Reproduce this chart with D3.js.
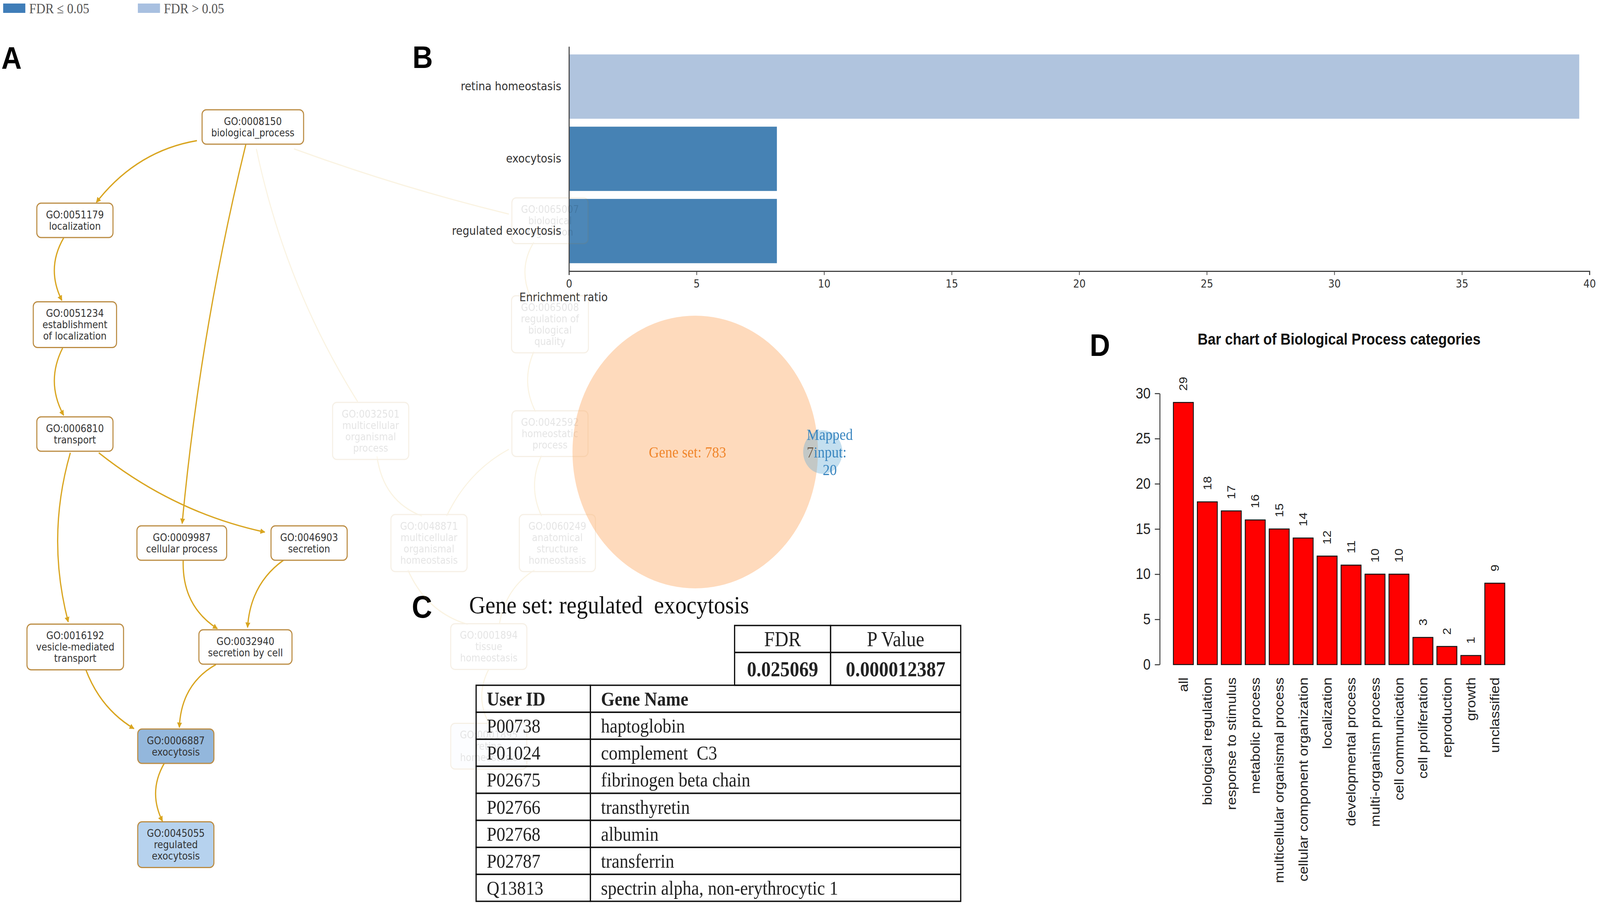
<!DOCTYPE html>
<html>
<head>
<meta charset="utf-8">
<script src="https://cdn.jsdelivr.net/npm/d3@7"></script>
<style>
  html, body { margin: 0; padding: 0; width: 100%; height: 100%; overflow: hidden; background: #fff; }
  .figure-canvas { width: 100vw; height: 100vh; }
  .figure-canvas svg { display: block; }
</style>
</head>
<body>
<div class="figure-canvas"></div>
<script>
// ---------------- data ----------------
const legendLabels = ['FDR \u2264 0.05', 'FDR > 0.05'];

// panel A: GO terms on the path to regulated exocytosis
const goTerms = [
  { id: 'GO:0008150', name: ['biological_process'] },
  { id: 'GO:0051179', name: ['localization'] },
  { id: 'GO:0051234', name: ['establishment', 'of localization'] },
  { id: 'GO:0006810', name: ['transport'] },
  { id: 'GO:0009987', name: ['cellular process'] },
  { id: 'GO:0046903', name: ['secretion'] },
  { id: 'GO:0016192', name: ['vesicle-mediated', 'transport'] },
  { id: 'GO:0032940', name: ['secretion by cell'] },
  { id: 'GO:0006887', name: ['exocytosis'] },
  { id: 'GO:0045055', name: ['regulated', 'exocytosis'] }
];
const goLinks = [
  ['GO:0008150', 'GO:0051179'], ['GO:0008150', 'GO:0009987'],
  ['GO:0051179', 'GO:0051234'], ['GO:0051234', 'GO:0006810'],
  ['GO:0006810', 'GO:0016192'], ['GO:0006810', 'GO:0046903'],
  ['GO:0009987', 'GO:0032940'], ['GO:0046903', 'GO:0032940'],
  ['GO:0016192', 'GO:0006887'], ['GO:0032940', 'GO:0006887'],
  ['GO:0006887', 'GO:0045055']
];
// terms of the other (faded) branch
const fadedTerms = [
  { id: 'GO:0065007', name: ['biological', 'regulation'] },
  { id: 'GO:0065008', name: ['regulation of', 'biological', 'quality'] },
  { id: 'GO:0042592', name: ['homeostatic', 'process'] },
  { id: 'GO:0032501', name: ['multicellular', 'organismal', 'process'] },
  { id: 'GO:0048871', name: ['multicellular', 'organismal', 'homeostasis'] },
  { id: 'GO:0060249', name: ['anatomical', 'structure', 'homeostasis'] },
  { id: 'GO:0001894', name: ['tissue', 'homeostasis'] },
  { id: 'GO:0001895', name: ['retina', 'homeostasis'] }
];
const fadedLinks = [
  ['GO:0008150', 'GO:0065007'], ['GO:0008150', 'GO:0032501'],
  ['GO:0065007', 'GO:0065008'], ['GO:0065008', 'GO:0042592'],
  ['GO:0042592', 'GO:0048871'], ['GO:0042592', 'GO:0060249'],
  ['GO:0032501', 'GO:0048871'], ['GO:0048871', 'GO:0001894'],
  ['GO:0060249', 'GO:0001894'], ['GO:0001894', 'GO:0001895']
];
const sigTerms = ['GO:0006887'];
const nonSigTerms = ['GO:0045055', 'GO:0001895'];

// panel B: enrichment ratio
const enrichCategories = ['retina homeostasis', 'exocytosis', 'regulated exocytosis'];
const enrichRatio = [39.6, 8.15, 8.15];
const enrichSignificant = [false, true, true];
const enrichTicks = [0, 5, 10, 15, 20, 25, 30, 35, 40];

// Venn
const geneSetSize = 783;
const mappedInput = 20;
const overlapCount = 7;

// panel C
const geneSetName = 'regulated  exocytosis';
const fdrValue = '0.025069';
const pValue = '0.000012387';
const userIds = ['P00738', 'P01024', 'P02675', 'P02766', 'P02768', 'P02787', 'Q13813'];
const geneNames = ['haptoglobin', 'complement  C3', 'fibrinogen beta chain', 'transthyretin',
  'albumin', 'transferrin', 'spectrin alpha, non-erythrocytic 1'];

// panel D
const bpCategories = ['all', 'biological regulation', 'response to stimulus', 'metabolic process',
  'multicellular organismal process', 'cellular component organization', 'localization',
  'developmental process', 'multi-organism process', 'cell communication', 'cell proliferation',
  'reproduction', 'growth', 'unclassified'];
const bpCounts = [29, 18, 17, 16, 15, 14, 12, 11, 10, 10, 3, 2, 1, 9];
const bpTicks = [0, 5, 10, 15, 20, 25, 30];

// ---------------- layout of the GO graph (node centres, edge anchors) ----------------
const nodePos = {
  'GO:0008150': [719, 325], 'GO:0051179': [213, 564], 'GO:0051234': [213, 831],
  'GO:0006810': [213, 1111], 'GO:0009987': [517, 1390], 'GO:0046903': [879, 1390],
  'GO:0016192': [214, 1656], 'GO:0032940': [698, 1656], 'GO:0006887': [500, 1910],
  'GO:0045055': [500, 2162],
  'GO:0065007': [1564, 565], 'GO:0065008': [1564, 830], 'GO:0042592': [1564, 1110],
  'GO:0032501': [1054, 1103], 'GO:0048871': [1220, 1390], 'GO:0060249': [1585, 1390],
  'GO:0001894': [1390, 1655], 'GO:0001895': [1390, 1910]
};
// [source offset, target offset, bend] per link, same order as the link lists
const linkShape = [
  [[-159, 35], [61, -46], 30], [[-20, 45], [1, -50], 20],
  [[-32, 45], [-37, -62], 24], [[-35, 60], [-32, -48], 25],
  [[-13, 48], [-20, -64], 33], [[68, 48], [-126, -28], 28],
  [[4, 44], [-80, -47], 30], [[-73, 44], [6, -50], 25],
  [[30, 58], [-119, -45], 18], [[-84, 45], [10, -48], 28],
  [[-33, 44], [-38, -60], 22]
];
const fadedShape = [
  [[117, 56], [-117, -17], 8], [[10, 56], [-37, -75], 34],
  [[-46, 55], [-56, -71], 20], [[-46, 70], [-41, -56], 20],
  [[-117, 40], [50, -69], 20], [[-24, 56], [-45, -69], 20],
  [[18, 65], [-20, -69], 30], [[-60, 69], [-60, -57], 25],
  [[-65, 69], [30, -57], 20], [[0, 58], [0, -59], 20]
];

// ---------------- drawing ----------------
const W = 4550, H = 2319;
const svg = d3.select('.figure-canvas')
  .append('svg')
  .attr('viewBox', `0 0 ${W} ${H}`)
  .attr('preserveAspectRatio', 'none')
  .attr('width', '100%')
  .attr('height', '100%')
  .style('background', '#fff');

const sigColor = '#4682b4', nonSigColor = '#b0c4de';
const edgeColor = '#d9a520';

// legend
const legendX = d3.scaleBand().domain(legendLabels).range([9, 775]);
const legend = svg.append('g').selectAll('g').data(legendLabels).enter().append('g')
  .attr('transform', d => `translate(${legendX(d)}, 9)`);
legend.append('rect')
  .attr('width', 63).attr('height', 24)
  .attr('fill', (d, i) => i === 0 ? '#3f7db8' : '#a8c0e0');
legend.append('text')
  .attr('x', 74).attr('y', 12).attr('dy', '0.35em')
  .attr('font-family', 'Liberation Serif').attr('font-size', 36).attr('fill', '#555')
  .text(d => d);

// panel letters
const panelLetters = [['A', 4, 176], ['B', 1173, 174], ['C', 1171, 1581], ['D', 3099, 911]];
svg.append('g').selectAll('text').data(panelLetters).enter().append('text')
  .attr('x', d => d[1]).attr('y', d => d[2])
  .attr('font-family', 'Liberation Sans').attr('font-weight', 'bold').attr('font-size', 80)
  .text(d => d[0]);

// helper: bent curve between two points
function bentPath(p0, p1, bend) {
  const dx = p1[0] - p0[0], dy = p1[1] - p0[1], len = Math.hypot(dx, dy);
  const cx = (p0[0] + p1[0]) / 2 - dy / len * bend * 2;
  const cy = (p0[1] + p1[1]) / 2 + dx / len * bend * 2;
  const p = d3.path();
  p.moveTo(p0[0], p0[1]);
  p.quadraticCurveTo(cx, cy, p1[0], p1[1]);
  return p.toString();
}

const defs = svg.append('defs');
defs.append('marker')
  .attr('id', 'arrow').attr('viewBox', '0 0 10 10').attr('refX', 9).attr('refY', 5)
  .attr('markerWidth', 4).attr('markerHeight', 4).attr('orient', 'auto')
  .append('path').attr('d', 'M0,0L10,5L0,10z').attr('fill', edgeColor);

function drawGraph(layer, terms, links, shapes, faded) {
  layer.selectAll('path.edge')
    .data(links)
    .enter().append('path')
      .attr('class', 'edge')
      .attr('d', (d, i) => {
        const s = nodePos[d[0]], t = nodePos[d[1]], sh = shapes[i];
        return bentPath([s[0] + sh[0][0], s[1] + sh[0][1]], [t[0] + sh[1][0], t[1] + sh[1][1]], sh[2]);
      })
      .attr('fill', 'none')
      .attr('stroke', edgeColor)
      .attr('stroke-width', faded ? 3 : 3.5)
      .attr('marker-end', faded ? null : 'url(#arrow)');

  const node = layer.selectAll('g.node')
    .data(terms)
    .enter().append('g')
      .attr('class', 'node')
      .attr('transform', d => `translate(${nodePos[d.id][0]}, ${nodePos[d.id][1]})`);

  node.each(function (d) {
    const g = d3.select(this);
    const lines = [d.id].concat(d.name);
    const lineH = 29;
    const txt = g.append('text')
      .attr('text-anchor', 'middle')
      .attr('font-family', 'DejaVu Sans')
      .attr('font-size', 26)
      .attr('fill', '#333');
    lines.forEach((l, i) => {
      txt.append('tspan').attr('x', 0)
        .attr('y', (i - (lines.length - 1) / 2) * lineH)
        .attr('dy', '0.35em')
        .text(l);
    });
    const w = txt.node().getBBox().width + 52;
    const h = lines.length * lineH + 30;
    let fill = '#fff';
    if (sigTerms.includes(d.id)) fill = '#93b7dc';
    if (nonSigTerms.includes(d.id)) fill = '#b6d2ee';
    g.insert('rect', 'text')
      .attr('x', -w / 2).attr('y', -h / 2)
      .attr('width', w).attr('height', h)
      .attr('rx', 12)
      .attr('fill', fill)
      .attr('fill-opacity', faded ? 0.35 : 1)
      .attr('stroke', '#bb8c43')
      .attr('stroke-width', 3);
  });
}

// panel A main graph
const graphA = svg.append('g');
drawGraph(graphA, goTerms, goLinks, linkShape, false);

// panel B
const xB = d3.scaleLinear().domain([0, 40]).range([1618, 4520]);
const yB = d3.scaleBand().domain(enrichCategories).range([119, 694]).paddingInner(0.11).paddingOuter(0.11);
const panelB = svg.append('g');

panelB.selectAll('rect')
  .data(enrichCategories)
  .enter().append('rect')
    .attr('x', xB(0))
    .attr('y', d => yB(d))
    .attr('width', (d, i) => xB(enrichRatio[i]) - xB(0))
    .attr('height', yB.bandwidth())
    .attr('fill', (d, i) => enrichSignificant[i] ? sigColor : nonSigColor);

const axB = panelB.append('g')
  .attr('transform', `translate(0, 694)`)
  .call(d3.axisBottom(xB).tickValues(enrichTicks).tickSize(10).tickPadding(12));
axB.select('.domain').attr('stroke', '#444').attr('stroke-width', 3);
axB.selectAll('.tick line').attr('stroke', '#444').attr('stroke-width', 2);
axB.selectAll('.tick text').attr('font-family', 'DejaVu Sans').attr('font-size', 28).attr('fill', '#333');

const ayB = panelB.append('g')
  .attr('transform', `translate(${xB(0)}, 0)`)
  .call(d3.axisLeft(yB).tickSize(0).tickPadding(22));
ayB.select('.domain').attr('stroke', '#444').attr('stroke-width', 3);
ayB.selectAll('.tick text').attr('font-family', 'DejaVu Sans').attr('font-size', 30).attr('fill', '#333');

panelB.append('text')
  .attr('x', 1477).attr('y', 761).attr('dy', '0.35em')
  .attr('font-family', 'DejaVu Sans').attr('font-size', 30).attr('fill', '#333')
  .text('Enrichment ratio');

// faded branch of the GO graph
const graphFaded = svg.append('g').attr('opacity', 0.13);
drawGraph(graphFaded, fadedTerms, fadedLinks, fadedShape, true);

// Venn
const rScale = d3.scaleSqrt().domain([0, geneSetSize]).range([0, 349]);
const rBig = rScale(geneSetSize), rSmall = rScale(mappedInput);
const vennCx = 1977, vennCy = 1157;
const smallCx = vennCx + rBig + rSmall - 42;
const venn = svg.append('g');
venn.append('circle')
  .attr('cx', vennCx).attr('cy', vennCy).attr('r', rBig)
  .attr('fill', '#fdae6b').attr('fill-opacity', 0.45);
venn.append('circle')
  .attr('cx', smallCx).attr('cy', vennCy).attr('r', rSmall)
  .attr('fill', '#6baed6').attr('fill-opacity', 0.4);
venn.append('text')
  .attr('x', vennCx - 22).attr('y', vennCy).attr('dy', '0.35em')
  .attr('text-anchor', 'middle')
  .attr('font-family', 'Liberation Serif').attr('font-size', 40).attr('fill', '#f0852a')
  .text(`Gene set: ${geneSetSize}`);
const mappedText = venn.append('text')
  .attr('text-anchor', 'middle')
  .attr('font-family', 'Liberation Serif').attr('font-size', 40).attr('fill', '#3a86c0');
mappedText.append('tspan').attr('x', smallCx + 20).attr('y', vennCy - 45).attr('dy', '0.35em').text('Mapped');
const line2 = mappedText.append('tspan').attr('x', smallCx + 11).attr('y', vennCy).attr('dy', '0.35em');
line2.append('tspan').attr('fill', '#6b5a4a').text(overlapCount);
line2.append('tspan').text('input:');
mappedText.append('tspan').attr('x', smallCx + 20).attr('y', vennCy + 45).attr('dy', '0.35em').text(mappedInput);

// panel C
const panelC = svg.append('g')
  .attr('font-family', 'Liberation Serif').attr('fill', '#111');
panelC.append('text')
  .attr('x', 1334).attr('y', 1570)
  .attr('font-size', 64)
  .style('white-space', 'pre')
  .text(`Gene set: ${geneSetName}`);

// small FDR / P value table
const statX = d3.scaleOrdinal().domain(['FDR', 'P Value']).range([2089, 2362]);
const statW = d3.scaleOrdinal().domain(['FDR', 'P Value']).range([273, 370]);
const statRows = d3.scaleOrdinal().domain([0, 1]).range([1601, 1670]);
const statH = d3.scaleOrdinal().domain([0, 1]).range([69, 84]);
const statCells = [
  { col: 'FDR', row: 0, text: 'FDR', bold: false },
  { col: 'P Value', row: 0, text: 'P Value', bold: false },
  { col: 'FDR', row: 1, text: fdrValue, bold: true },
  { col: 'P Value', row: 1, text: pValue, bold: true }
];
const statG = panelC.append('g').selectAll('g').data(statCells).enter().append('g');
statG.append('rect')
  .attr('x', d => statX(d.col)).attr('y', d => statRows(d.row))
  .attr('width', d => statW(d.col)).attr('height', d => statH(d.row))
  .attr('fill', 'none').attr('stroke', '#111').attr('stroke-width', 3.5);
statG.append('text')
  .attr('x', d => statX(d.col) + statW(d.col) / 2)
  .attr('y', d => statRows(d.row) + statH(d.row) / 2)
  .attr('dy', '0.35em')
  .attr('text-anchor', 'middle')
  .attr('font-size', 54)
  .attr('font-weight', d => d.bold ? 'bold' : 'normal')
  .attr('fill', '#222')
  .text(d => d.text);

// gene table
const geneRows = [{ id: 'User ID', name: 'Gene Name', head: true }]
  .concat(userIds.map((id, i) => ({ id, name: geneNames[i], head: false })));
const rowY = d3.scaleBand().domain(d3.range(geneRows.length)).range([1754, 2307]);
const colX = d3.scaleOrdinal().domain(['id', 'name']).range([1354, 1679]);
const colW = d3.scaleOrdinal().domain(['id', 'name']).range([325, 1053]);
const rowsG = panelC.append('g').selectAll('g').data(geneRows).enter().append('g')
  .attr('transform', (d, i) => `translate(0, ${rowY(i)})`);
['id', 'name'].forEach(c => {
  rowsG.append('rect')
    .attr('x', colX(c)).attr('y', 0)
    .attr('width', colW(c)).attr('height', rowY.bandwidth())
    .attr('fill', 'none').attr('stroke', '#111').attr('stroke-width', 3.5);
  rowsG.append('text')
    .attr('x', colX(c) + 30)
    .attr('y', rowY.bandwidth() / 2)
    .attr('dy', '0.35em')
    .attr('font-size', 50)
    .attr('font-weight', d => d.head ? 'bold' : 'normal')
    .attr('fill', '#222')
    .style('white-space', 'pre')
    .text(d => d[c]);
});

// panel D
const xD = d3.scaleBand().domain(bpCategories).range([3330, 4286]).paddingInner(1 / 6).paddingOuter(0.1);
const yD = d3.scaleLinear().domain([0, 30]).range([1701, 1007]);
const panelD = svg.append('g').attr('font-family', 'Liberation Sans');

panelD.append('text')
  .attr('x', 3808).attr('y', 868).attr('dy', '0.35em')
  .attr('text-anchor', 'middle')
  .attr('font-weight', 'bold').attr('font-size', 40).attr('fill', '#111')
  .text('Bar chart of Biological Process categories');

panelD.selectAll('rect')
  .data(bpCategories)
  .enter().append('rect')
    .attr('x', d => xD(d))
    .attr('y', (d, i) => yD(bpCounts[i]))
    .attr('width', xD.bandwidth())
    .attr('height', (d, i) => yD(0) - yD(bpCounts[i]))
    .attr('fill', '#ff0000')
    .attr('stroke', '#111')
    .attr('stroke-width', 2.5);

const ayD = panelD.append('g')
  .attr('transform', 'translate(3298, 0)')
  .call(d3.axisLeft(yD).tickValues(bpTicks).tickSize(14).tickSizeOuter(0).tickPadding(12));
ayD.select('.domain').attr('stroke', '#333').attr('stroke-width', 2.5);
ayD.selectAll('.tick line').attr('stroke', '#333').attr('stroke-width', 2.5);
ayD.selectAll('.tick text').attr('font-family', 'Liberation Sans').attr('font-size', 38).attr('fill', '#222');

// value labels above bars
panelD.selectAll('text.val')
  .data(bpCategories)
  .enter().append('text')
    .attr('class', 'val')
    .attr('transform', (d, i) => `translate(${xD(d) + xD.bandwidth() / 2 + 11}, ${yD(bpCounts[i]) - 30}) rotate(-90)`)
    .attr('font-size', 32).attr('fill', '#222')
    .text((d, i) => bpCounts[i]);

// category labels below
panelD.selectAll('text.cat')
  .data(bpCategories)
  .enter().append('text')
    .attr('class', 'cat')
    .attr('transform', d => `translate(${xD(d) + xD.bandwidth() / 2 + 13}, 1734) rotate(-90)`)
    .attr('text-anchor', 'end')
    .attr('font-size', 37).attr('fill', '#222')
    .text(d => d);
</script>
</body>
</html>
